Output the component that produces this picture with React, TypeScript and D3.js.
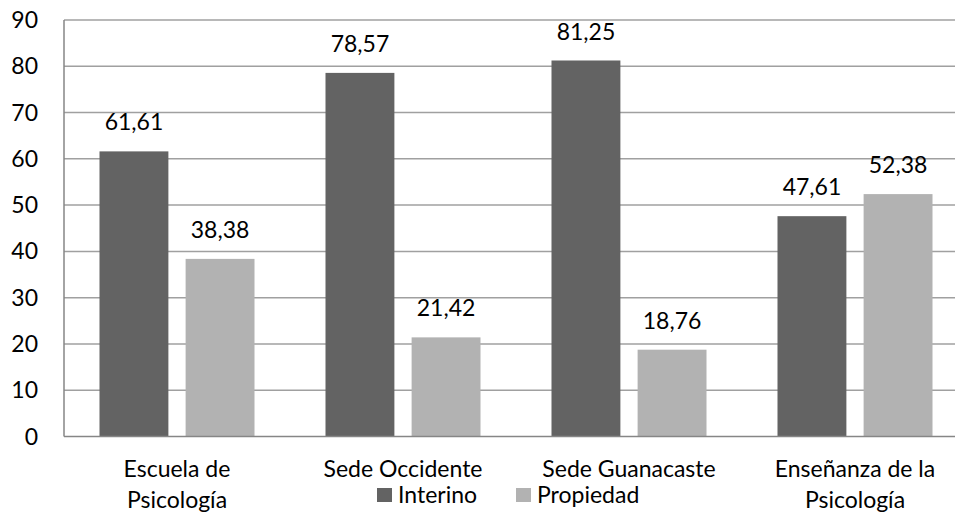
import { useEffect, useRef } from "react";
import * as d3 from "d3";

const categories = [
  ["Escuela de", "Psicología"],
  ["Sede Occidente"],
  ["Sede Guanacaste"],
  ["Enseñanza de la", "Psicología"],
];
const interino = [61.61, 78.57, 81.25, 47.61];
const propiedad = [38.38, 21.42, 18.76, 52.38];
const seriesNames = ["Interino", "Propiedad"];
const seriesColors = ["#636363", "#b2b2b2"];
const yTicks = [0, 10, 20, 30, 40, 50, 60, 70, 80, 90];

export default function App() {
  const svgRef = useRef<SVGSVGElement>(null);

  useEffect(() => {
    if (!svgRef.current) return;
    const width = 955;
    const height = 514;
    const margin = { top: 20, right: -13, bottom: 77.5, left: 64 };
    const innerWidth = width - margin.left - margin.right;
    const innerHeight = height - margin.top - margin.bottom;
    const font = "Lato, 'Open Sans', sans-serif";
    const fs = 23;

    d3.select(svgRef.current).selectAll("*").remove();
    const svg = d3.select(svgRef.current);
    const g = svg
      .append("g")
      .attr("transform", `translate(${margin.left},${margin.top})`);

    const x0 = d3
      .scaleBand<number>()
      .domain(categories.map((_, i) => i))
      .range([0, innerWidth])
      .paddingInner(0)
      .paddingOuter(0);
    const x1 = d3
      .scaleBand<number>()
      .domain([0, 1])
      .range([35.5, x0.bandwidth() - 35.5])
      .paddingInner(0.2);
    const y = d3.scaleLinear().domain([0, 90]).range([innerHeight, 0]);

    // gridlines
    g.selectAll(".grid")
      .data(yTicks.slice(1))
      .join("line")
      .attr("x1", 0)
      .attr("x2", innerWidth)
      .attr("y1", (d) => y(d))
      .attr("y2", (d) => y(d))
      .attr("stroke", "#a0a0a0")
      .attr("stroke-width", 1.5);

    // bars
    const data = [interino, propiedad];
    categories.forEach((_, ci) => {
      const cg = g.append("g").attr("transform", `translate(${x0(ci)},0)`);
      data.forEach((series, si) => {
        const v = series[ci];
        cg.append("rect")
          .attr("x", x1(si)!)
          .attr("width", x1.bandwidth())
          .attr("y", y(v))
          .attr("height", innerHeight - y(v))
          .attr("fill", seriesColors[si]);
        cg.append("text")
          .attr("x", x1(si)! + x1.bandwidth() / 2)
          .attr("y", y(v) - 21)
          .attr("text-anchor", "middle")
          .attr("font-family", font)
          .attr("font-size", fs)
          .attr("fill", "#000")
          .text(v.toFixed(2).replace(".", ","));
      });
      const lines = categories[ci];
      lines.forEach((line, li) => {
        g.append("text")
          .attr("x", x0(ci)! + x0.bandwidth() / 2)
          .attr("y", innerHeight + 40 + li * 31)
          .attr("text-anchor", "middle")
          .attr("font-family", font)
          .attr("font-size", fs)
          .attr("fill", "#000")
          .text(line);
      });
    });

    // axes lines
    g.append("line")
      .attr("x1", 0)
      .attr("x2", 0)
      .attr("y1", 0)
      .attr("y2", innerHeight)
      .attr("stroke", "#868686")
      .attr("stroke-width", 1.5);
    g.append("line")
      .attr("x1", 0)
      .attr("x2", innerWidth)
      .attr("y1", innerHeight)
      .attr("y2", innerHeight)
      .attr("stroke", "#868686")
      .attr("stroke-width", 1.5);

    // y tick labels
    g.selectAll(".ytick")
      .data(yTicks)
      .join("text")
      .attr("x", -26)
      .attr("y", (d) => y(d) + 8)
      .attr("text-anchor", "end")
      .attr("font-family", font)
      .attr("font-size", fs)
      .attr("fill", "#000")
      .text((d) => d);

    // legend
    const legendX = [377, 516];
    seriesNames.forEach((name, i) => {
      svg
        .append("rect")
        .attr("x", legendX[i])
        .attr("y", 488)
        .attr("width", 15)
        .attr("height", 14)
        .attr("fill", seriesColors[i]);
      svg
        .append("text")
        .attr("x", legendX[i] + 21)
        .attr("y", 503)
        .attr("font-family", font)
        .attr("font-size", fs)
        .attr("fill", "#000")
        .text(name);
    });
  }, []);

  return (
    <svg
      ref={svgRef}
      width={955}
      height={514}
      style={{ position: "absolute", left: 0, top: 0, background: "#fff" }}
    />
  );
}
